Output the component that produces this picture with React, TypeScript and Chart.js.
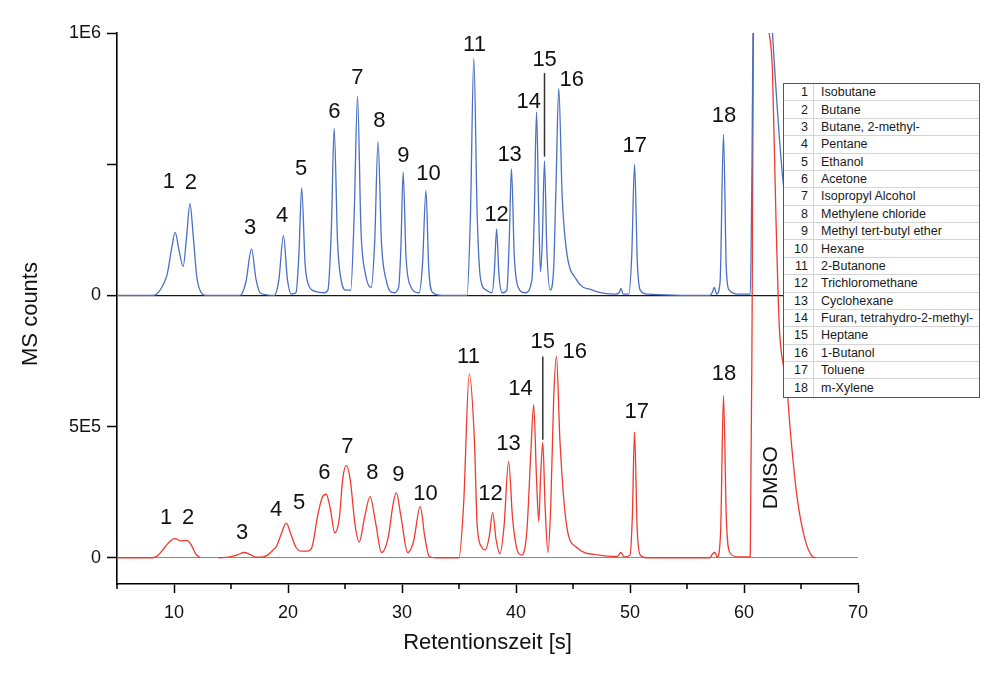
import React, { useEffect, useRef } from 'react';
import { Chart, registerables } from 'chart.js';

Chart.register(...registerables);

// ---- Data (retention time in s, signal in units of 1E6 counts) ----
const blueTime = [
  5.0, 8.2, 8.7, 9.1, 9.4, 9.8, 10.1, 10.45, 10.8, 11.1, 11.4, 11.7, 12.0, 12.4, 12.8,
  15.8, 16.3, 16.8, 17.2, 17.6, 18.8, 19.2, 19.6, 19.95, 20.3, 20.7, 20.95, 21.2, 21.5, 21.8,
  22.4, 23.2, 23.5, 23.8, 24.05, 24.35, 24.7, 25.1, 25.5, 25.8, 26.1, 26.4, 26.8, 27.3, 27.6,
  27.9, 28.2, 28.6, 29.3, 29.7, 29.9, 30.1, 30.35, 30.7, 31.5, 31.8, 32.1, 32.35, 32.7, 33.5,
  35.7, 36.0, 36.3, 36.6, 36.9, 37.4, 37.9, 38.1, 38.3, 38.5, 38.8, 39.2, 39.4, 39.6, 39.85,
  40.2, 40.8, 41.4, 41.6, 41.8, 42.0, 42.15, 42.3, 42.5, 42.7, 43.0, 43.3, 43.5, 43.75, 44.05,
  44.4, 45.3, 46.7, 48.7, 49.05, 49.2, 49.4, 49.9, 50.15, 50.4, 50.65, 50.9, 51.5, 57.0, 57.2,
  57.4, 57.6, 57.9, 58.2, 58.45, 58.7, 59.5, 60.55, 60.7, 60.85, 61.5, 62.3, 62.63, 63.3, 63.8,
  64.5, 65.3, 66.2,
];
const blueSignal = [
  0, 0, 0.015, 0.045, 0.08, 0.18, 0.24, 0.17, 0.11, 0.22, 0.35, 0.22, 0.07, 0.01, 0,
  0, 0.05, 0.176, 0.06, 0.008, 0, 0.06, 0.228, 0.06, 0.005, 0.01, 0.15, 0.41, 0.12, 0.04,
  0.015, 0.01, 0.02, 0.25, 0.636, 0.2, 0.05, 0.02, 0.02, 0.3, 0.758, 0.25, 0.08, 0.03, 0.2,
  0.586, 0.2, 0.06, 0.01, 0.03, 0.18, 0.47, 0.15, 0.04, 0.01, 0.12, 0.4, 0.1, 0.01, 0,
  0, 0.3, 0.904, 0.3, 0.06, 0.02, 0.01, 0.09, 0.253, 0.08, 0.01, 0.02, 0.2, 0.483, 0.15,
  0.03, 0.01, 0.06, 0.3, 0.7, 0.3, 0.09, 0.2, 0.513, 0.18, 0.02, 0.1, 0.4, 0.79, 0.38,
  0.18, 0.06, 0.02, 0.005, 0.01, 0.027, 0.005, 0.005, 0.15, 0.5, 0.12, 0.02, 0.005, 0, 0.01,
  0.03, 0.005, 0.05, 0.613, 0.1, 0.02, 0.005, 0.005, 0.5, 1.3, 1.7, 1.15, 0.904, 0.494, 0.3,
  0.15, 0.05, 0,
];

const redTime = [
  5.0, 8.1, 8.6, 9.2, 9.7, 10.1, 10.6, 11.1, 11.5, 11.9, 12.3, 13.0, 13.9, 14.9, 15.6,
  16.15, 16.7, 17.2, 17.7, 18.2, 18.7, 19.0, 19.4, 19.85, 20.25, 20.7, 21.2, 21.7, 22.1, 22.6,
  23.0, 23.35, 23.7, 24.1, 24.5, 24.8, 25.1, 25.45, 25.9, 26.25, 26.7, 27.2, 27.7, 28.2, 28.8,
  29.2, 29.5, 29.9, 30.5, 31.0, 31.6, 32.0, 32.4, 33.0, 35.0, 35.4, 35.9, 36.35, 36.6, 37.0,
  37.3, 37.65, 37.95, 38.25, 38.6, 38.95, 39.35, 39.7, 40.1, 40.5, 40.95, 41.3, 41.55, 41.8, 42.0,
  42.15, 42.35, 42.55, 42.8, 43.05, 43.3, 43.55, 43.85, 44.45, 45.3, 47.3, 48.9, 49.2, 49.5, 50.0,
  50.2, 50.4, 50.62, 50.9, 51.5, 57.0, 57.25, 57.45, 57.65, 57.95, 58.2, 58.45, 58.75, 59.5, 60.55,
  60.72, 60.85, 61.5, 62.1, 62.5, 62.8, 63.1, 63.5, 63.8, 64.05, 64.65, 65.35, 66.0, 66.3,
];
const redSignal = [
  0, 0, 0.01, 0.04, 0.065, 0.073, 0.064, 0.066, 0.05, 0.015, 0, null, 0, 0.003, 0.012,
  0.02, 0.012, 0.002, 0.002, 0.01, 0.03, 0.045, 0.09, 0.132, 0.09, 0.04, 0.025, 0.025, 0.04, 0.16,
  0.23, 0.242, 0.19, 0.095, 0.15, 0.3, 0.352, 0.3, 0.12, 0.06, 0.15, 0.233, 0.13, 0.02, 0.08,
  0.2, 0.248, 0.16, 0.02, 0.06, 0.195, 0.08, 0.005, 0, 0, 0.2, 0.7, 0.45, 0.12, 0.04,
  0.03, 0.08, 0.172, 0.07, 0.015, 0.12, 0.367, 0.15, 0.03, 0.01, 0.1, 0.4, 0.584, 0.3, 0.138,
  0.3, 0.44, 0.2, 0.02, 0.2, 0.6, 0.767, 0.45, 0.12, 0.04, 0.01, 0.005, 0.02, 0.003, 0.01,
  0.15, 0.48, 0.12, 0.01, 0, 0, 0.015, 0.02, 0.003, 0.1, 0.618, 0.15, 0.02, 0.003, 0.003,
  1.0, 2.2, 2.6, 2.05, 1.85, 1.3, 0.88, 0.72, 0.63, 0.49, 0.233, 0.07, 0.005, 0,
];

const xTickValues = [5, 10, 15, 20, 25, 30, 35, 40, 45, 50, 55, 60, 65, 70];
const yTickValues = [0, 500000, 1000000, 1500000, 2000000];
const yTickLabels = ['0', '5E5', '0', '', '1E6'];

const peakNumbers = ['1', '2', '3', '4', '5', '6', '7', '8', '9', '10', '11', '12', '13', '14', '15', '16', '17', '18'];
const blueLabelTime = [9.56, 11.49, 16.68, 19.49, 21.16, 24.06, 26.08, 28.01, 30.12, 32.32, 36.36, 38.3, 39.44, 41.11, 42.51, 44.89, 50.42, 58.24];
const blueLabelLevel = [0.433, 0.429, 0.257, 0.303, 0.483, 0.701, 0.828, 0.663, 0.533, 0.464, 0.954, 0.307, 0.536, 0.739, 0.897, 0.82, 0.571, 0.682];
const redLabelTime = [9.3, 11.23, 15.98, 18.96, 20.98, 23.18, 25.2, 27.4, 29.68, 32.06, 35.83, 37.77, 39.35, 40.4, 42.34, 45.15, 50.6, 58.24];
const redLabelLevel = [0.153, 0.153, 0.095, 0.183, 0.21, 0.324, 0.424, 0.324, 0.317, 0.244, 0.767, 0.244, 0.435, 0.645, 0.824, 0.786, 0.557, 0.702];

// marker line for peak 15: [time, from, to]
const blueMarker15 = [42.5, 0.529, 0.847];
const redMarker15 = [42.35, 0.45, 0.767];
const dmsoLabel = ['DMSO', 62.37, 0.305];

const compounds = [
  'Isobutane', 'Butane', 'Butane, 2-methyl-', 'Pentane', 'Ethanol', 'Acetone',
  'Isopropyl Alcohol', 'Methylene chloride', 'Methyl tert-butyl ether', 'Hexane',
  '2-Butanone', 'Trichloromethane', 'Cyclohexane', 'Furan, tetrahydro-2-methyl-',
  'Heptane', '1-Butanol', 'Toluene', 'm-Xylene',
];

const FONT = "'Liberation Sans', Arial, Helvetica, sans-serif";
const BLUE = '#4a70c4';
const RED = '#ef3a2f';

const annotations = {
  id: 'annotations',
  afterDatasetsDraw(chart: any) {
    const { ctx, chartArea, scales } = chart;
    const x = scales.x;
    const yR = scales.y;
    const yB = scales.yBlue;
    ctx.save();
    // minor x ticks
    ctx.strokeStyle = '#000';
    ctx.lineWidth = 1.5;
    xTickValues.forEach((v) => {
      if (v % 10 !== 0) {
        const px = x.getPixelForValue(v);
        ctx.beginPath();
        ctx.moveTo(px, chartArea.bottom);
        ctx.lineTo(px, chartArea.bottom + 5);
        ctx.stroke();
      }
    });
    // peak labels
    ctx.fillStyle = '#111';
    ctx.font = `22px ${FONT}`;
    ctx.textAlign = 'center';
    ctx.textBaseline = 'middle';
    peakNumbers.forEach((n, i) => {
      ctx.fillText(n, x.getPixelForValue(blueLabelTime[i]), yB.getPixelForValue(blueLabelLevel[i] * 1e6));
      ctx.fillText(n, x.getPixelForValue(redLabelTime[i]), yR.getPixelForValue(redLabelLevel[i] * 1e6));
    });
    // marker lines for peak 15
    ctx.strokeStyle = '#333';
    ctx.lineWidth = 1.5;
    [
      [blueMarker15, yB],
      [redMarker15, yR],
    ].forEach(([m, sc]: any) => {
      const px = x.getPixelForValue(m[0]);
      ctx.beginPath();
      ctx.moveTo(px, sc.getPixelForValue(m[1] * 1e6));
      ctx.lineTo(px, sc.getPixelForValue(m[2] * 1e6));
      ctx.stroke();
    });
    // DMSO label
    ctx.save();
    ctx.translate(x.getPixelForValue(dmsoLabel[1] as number), yR.getPixelForValue((dmsoLabel[2] as number) * 1e6));
    ctx.rotate(-Math.PI / 2);
    ctx.font = `21px ${FONT}`;
    ctx.fillText(dmsoLabel[0] as string, 0, 0);
    ctx.restore();
    // axis titles
    ctx.font = `22px ${FONT}`;
    ctx.fillStyle = '#111';
    ctx.fillText('Retentionszeit [s]', (chartArea.left + chartArea.right) / 2, 643);
    ctx.save();
    ctx.translate(31, 314);
    ctx.rotate(-Math.PI / 2);
    ctx.fillText('MS counts', 0, 0);
    ctx.restore();
    ctx.restore();
  },
};

function ChromChart() {
  const ref = useRef<HTMLCanvasElement>(null);
  useEffect(() => {
    if (!ref.current) return;
    const blueData = blueTime.map((t, i) => ({ x: t, y: blueSignal[i] * 1e6 }));
    const redData = redTime.map((t, i) => ({ x: t, y: redSignal[i] === null ? null : (redSignal[i] as number) * 1e6 }));
    const chart = new Chart(ref.current, {
      type: 'line',
      data: {
        datasets: [
          {
            label: 'blue',
            data: blueData as any,
            yAxisID: 'yBlue',
            borderColor: BLUE,
            borderWidth: 1.3,
            pointRadius: 0,
            cubicInterpolationMode: 'monotone',
            order: 1,
          },
          {
            label: 'red',
            data: redData as any,
            yAxisID: 'y',
            borderColor: RED,
            borderWidth: 1.3,
            pointRadius: 0,
            cubicInterpolationMode: 'monotone',
            spanGaps: false,
            order: 2,
          },
        ],
      },
      options: {
        responsive: false,
        animation: false,
        events: [],
        layout: { padding: { left: 0, right: 142, top: 33, bottom: 0 } },
        plugins: { legend: { display: false }, tooltip: { enabled: false } },
        scales: {
          x: {
            type: 'linear',
            min: 5,
            max: 70,
            afterBuildTicks: (scale: any) => {
              scale.ticks = xTickValues.map((v) => ({ value: v }));
            },
            afterFit: (scale: any) => {
              scale.height = 106;
            },
            ticks: {
              autoSkip: false,
              maxRotation: 0,
              padding: 9,
              color: '#111',
              font: { size: 18, family: FONT },
              callback: (v: any) => (Number(v) % 10 === 0 ? String(v) : ''),
            },
            grid: {
              drawOnChartArea: false,
              tickLength: 9,
              tickWidth: 1.5,
              tickColor: (c: any) => (c.tick && c.tick.value % 10 === 0 ? '#000' : 'rgba(0,0,0,0)'),
            },
            border: { display: true, color: '#000', width: 1.6 },
          },
          y: {
            type: 'linear',
            position: 'left',
            min: -100000,
            max: 2000000,
            afterBuildTicks: (scale: any) => {
              scale.ticks = yTickValues.map((v) => ({ value: v }));
            },
            afterFit: (scale: any) => {
              scale.width = 117;
            },
            ticks: {
              padding: 6,
              color: '#111',
              font: { size: 18, family: FONT },
              callback: (v: any) => {
                const i = yTickValues.indexOf(Number(v));
                return i >= 0 ? yTickLabels[i] : '';
              },
            },
            grid: {
              drawOnChartArea: true,
              tickLength: 10,
              tickWidth: 1.5,
              tickColor: '#000',
              lineWidth: (c: any) => (c.tick && c.tick.value === 1000000 ? 1.3 : 1),
              color: (c: any) => {
                if (!c.tick) return 'rgba(0,0,0,0)';
                if (c.tick.value === 1000000) return '#1a1a1a';
                if (c.tick.value === 0) return '#8a8a8a';
                return 'rgba(0,0,0,0)';
              },
            },
            border: { display: true, color: '#000', width: 1.6 },
          },
          yBlue: {
            type: 'linear',
            display: false,
            min: -1100000,
            max: 1000000,
          },
        },
      },
      plugins: [annotations],
    });
    return () => chart.destroy();
  }, []);
  return <canvas ref={ref} width={1000} height={690} style={{ display: 'block' }} />;
}

function CompoundTable() {
  return (
    <div
      style={{
        position: 'absolute',
        left: 783,
        top: 83,
        width: 197,
        height: 315,
        background: '#fff',
        border: '1px solid #555',
        boxSizing: 'border-box',
        fontFamily: FONT,
        fontSize: 12.5,
        color: '#1a1a1a',
      }}
    >
      {compounds.map((name, i) => (
        <div
          key={name}
          style={{
            display: 'flex',
            height: 313 / 18,
            boxSizing: 'border-box',
            borderBottom: i < compounds.length - 1 ? '1px solid #d4d4d4' : 'none',
            alignItems: 'center',
          }}
        >
          <div
            style={{
              width: 30,
              height: '100%',
              boxSizing: 'border-box',
              borderRight: '1px solid #d4d4d4',
              textAlign: 'right',
              paddingRight: 5,
              display: 'flex',
              alignItems: 'center',
              justifyContent: 'flex-end',
            }}
          >
            {peakNumbers[i]}
          </div>
          <div style={{ paddingLeft: 7, whiteSpace: 'nowrap' }}>{name}</div>
        </div>
      ))}
    </div>
  );
}

export default function App() {
  return (
    <div style={{ position: 'absolute', left: 0, top: 0, width: 1000, height: 690, background: '#fff' }}>
      <ChromChart />
      <CompoundTable />
    </div>
  );
}
